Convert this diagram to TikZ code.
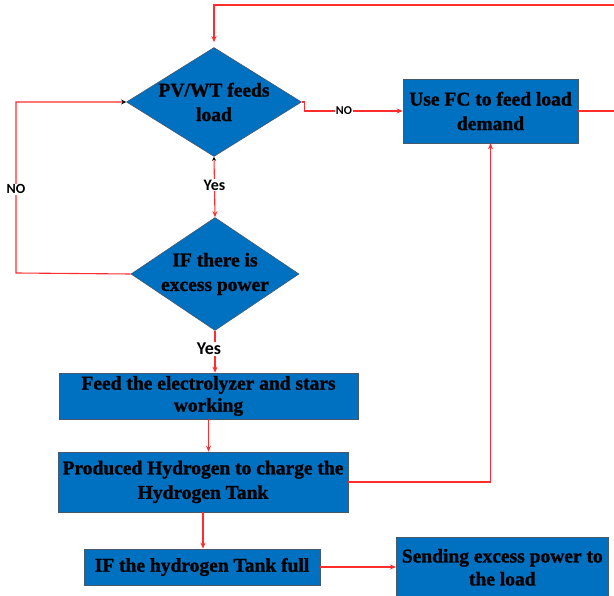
\documentclass[tikz,border=0pt]{standalone}
\usepackage{fontspec}
\setmainfont{Liberation Serif}[BoldFont={Liberation Serif Bold},BoldFeatures={FakeBold=1.2}]
\newfontfamily\labfont{Carlito}
\usetikzlibrary{shapes.geometric,arrows.meta,calc}
\definecolor{boxblue}{RGB}{0,112,192}
\definecolor{boxedge}{RGB}{70,90,110}
\definecolor{linered}{RGB}{255,45,45}
\tikzset{
  boxtxt/.style={font=\bfseries\fontsize{19.5}{24.5}\selectfont, align=center, text=black},
  blk/.style={rectangle, fill=boxblue, draw=boxedge, line width=0.6pt, inner sep=0pt},
  dia/.style={diamond, fill=boxblue, draw=boxedge, line width=0.6pt, inner sep=0pt},
  conn/.style={draw=linered, line width=1.1pt, -{Stealth[length=6pt,width=5pt]}},
  labs/.style={font=\labfont\bfseries\fontsize{#1}{#1}\selectfont, fill=white, inner sep=1pt, text=black}
}
\begin{document}
\begin{tikzpicture}[x=1pt,y=-1pt]
\useasboundingbox (0,0) rectangle (614,596);
% nodes
\node[dia, minimum width=175pt, minimum height=109pt,
  label={[boxtxt]center:PV/WT feeds\\load}] (d1) at (214,102) {};
\node[dia, minimum width=168pt, minimum height=113pt,
  label={[boxtxt]center:IF there is\\excess power}] (d2) at (215,274) {};
\node[blk, minimum width=175pt, minimum height=64pt, boxtxt] (fc) at (490.5,111) {Use FC to feed load\\demand};
\node[blk, minimum width=299pt, minimum height=46pt, boxtxt, font=\bfseries\fontsize{19.5}{22}\selectfont] (b3) at (208.5,396) {Feed the electrolyzer and stars\\working};
\node[blk, minimum width=290pt, minimum height=60pt, boxtxt] (b4) at (203,482) {Produced Hydrogen to charge the\\Hydrogen Tank};
\node[blk, minimum width=236pt, minimum height=36pt, boxtxt] (b5) at (202,567) {IF the hydrogen Tank full};
\node[blk, minimum width=212pt, minimum height=60pt, boxtxt, font=\bfseries\fontsize{19.5}{23}\selectfont, anchor=north west] (b6) at (396,537) {Sending excess power to\\the load};
\coordinate (topR) at (615,5);
\coordinate (leftL) at (16,273);
% connectors
\draw[conn, shorten >=5pt] (fc.east) -| (topR) -| (d1.north);
\draw[conn] (d1.east) -- ++(3,0) |- (fc.west) node[labs=12, pos=0.7] {NO};
\draw[conn, {Stealth[length=4pt,width=4pt,color=black]}-{Stealth[length=6pt,width=5pt]}] (d1.south) -- node[labs=16, pos=0.47] {Yes} (d2.north);
\draw[conn, -{Stealth[length=5pt,width=5pt,color=black]}] (d2.west) -- (leftL) |- node[labs=14, pos=0.245] {NO} (d1.west);
\draw[conn] (d2.south) -- node[labs=18, pos=0.43, xshift=-6pt] {Yes} (d2.south |- b3.north);
\draw[conn] (b3.south) -- (b3.south |- b4.north);
\draw[conn] (b4.south) -- (b4.south |- b5.north);
\draw[conn] (b4.east) -| (fc.south);
\draw[conn] (b5.east) -- (b5.east -| b6.west);
\end{tikzpicture}
\end{document}
